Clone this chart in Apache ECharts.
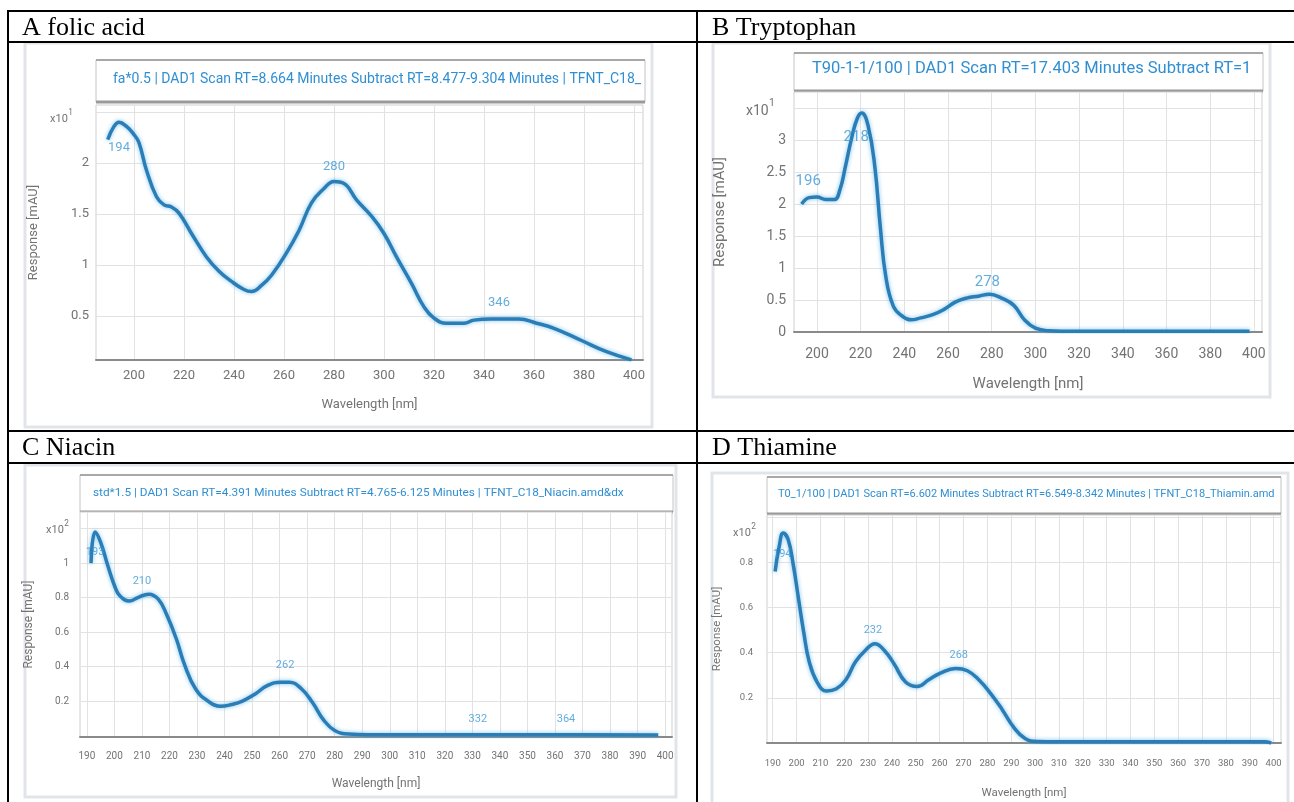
<!DOCTYPE html>
<html>
<head>
<meta charset="utf-8">
<script src="https://cdn.jsdelivr.net/npm/echarts@6/dist/echarts.min.js"></script>
<style>
html,body{margin:0;padding:0;background:#fff;}
#c{width:1294px;height:802px;}
</style>
</head>
<body>
<div id="c"></div>
<script>
// ---------------- DATA ----------------
const headings = ['A folic acid', 'B Tryptophan', 'C Niacin', 'D Thiamine'];
const scanTitles = [
  'fa*0.5 | DAD1 Scan RT=8.664 Minutes Subtract RT=8.477-9.304 Minutes | TFNT_C18_F',
  'T90-1-1/100 | DAD1 Scan RT=17.403 Minutes Subtract RT=1',
  'std*1.5 | DAD1 Scan RT=4.391 Minutes Subtract RT=4.765-6.125 Minutes | TFNT_C18_Niacin.amd&dx',
  'T0_1/100 | DAD1 Scan RT=6.602 Minutes Subtract RT=6.549-8.342 Minutes | TFNT_C18_Thiamin.amd'
];
const exponents = ['1', '1', '2', '2'];

// A folic acid
const wlA  = [189.5, 192, 194, 197, 200, 202, 205, 209, 212, 215, 218, 223, 229, 234, 239, 244, 247, 251, 255, 261, 266, 271, 276, 280, 284, 289, 295, 300, 305, 311, 316, 320, 325, 332, 336, 343, 354, 361, 368, 379, 389, 399];
const valA = [2.23, 2.36, 2.40, 2.36, 2.28, 2.20, 1.93, 1.67, 1.59, 1.57, 1.51, 1.31, 1.08, 0.94, 0.84, 0.76, 0.74, 0.80, 0.90, 1.12, 1.34, 1.61, 1.75, 1.82, 1.80, 1.64, 1.48, 1.31, 1.08, 0.82, 0.59, 0.48, 0.43, 0.43, 0.46, 0.47, 0.47, 0.43, 0.38, 0.26, 0.15, 0.07];
const peakWlA  = [194, 280, 346];
const peakValA = [2.40, 1.82, 0.47];

// B Tryptophan
const wlB  = [193, 196.5, 200, 204, 208, 210.5, 213, 216, 218.5, 220.5, 223.5, 226.5, 229, 231.5, 235, 239, 243, 247.5, 253, 258, 263.5, 268.5, 274, 279, 284.5, 290, 295, 300, 306, 318, 340, 360, 380, 398];
const valB = [2.00, 2.10, 2.11, 2.07, 2.07, 2.22, 2.58, 3.05, 3.34, 3.42, 3.21, 2.58, 1.64, 0.87, 0.40, 0.25, 0.19, 0.22, 0.27, 0.35, 0.47, 0.53, 0.56, 0.59, 0.53, 0.42, 0.19, 0.06, 0.02, 0.01, 0.01, 0.01, 0.01, 0.01];
const peakWlB  = [196, 218, 278];
const peakValB = [2.10, 3.34, 0.59];

// C Niacin
const wlC  = [191.5, 193, 195, 197.5, 200, 202, 205.5, 208.5, 212.5, 216, 219, 222.5, 225.5, 229.5, 234, 238.5, 242.5, 246.5, 251, 255.5, 260.5, 263.5, 268, 272, 276, 280, 285, 300, 330, 360, 397.5];
const valC = [1.00, 1.18, 1.12, 0.99, 0.87, 0.81, 0.78, 0.80, 0.82, 0.79, 0.70, 0.56, 0.41, 0.27, 0.20, 0.17, 0.18, 0.20, 0.24, 0.29, 0.31, 0.31, 0.27, 0.19, 0.09, 0.03, 0.01, 0.005, 0.005, 0.005, 0.004];
const peakWlC  = [193, 210, 262, 332, 364];
const peakValC = [1.18, 0.81, 0.31, 0.005, 0.005];

// D Thiamine
const wlD  = [191, 192.7, 194.4, 196.5, 198.6, 200.8, 203, 205.3, 208.6, 212.6, 216.7, 220.7, 224.7, 228.8, 232.8, 236.8, 240.9, 245.7, 250.6, 255.4, 260.3, 266.7, 271.6, 276.4, 281.3, 286.1, 291, 295.8, 300.7, 320, 360, 396, 399];
const valD = [0.76, 0.87, 0.93, 0.90, 0.79, 0.64, 0.49, 0.36, 0.27, 0.23, 0.24, 0.28, 0.36, 0.41, 0.44, 0.41, 0.35, 0.27, 0.25, 0.28, 0.31, 0.33, 0.32, 0.28, 0.22, 0.15, 0.07, 0.02, 0.007, 0.005, 0.005, 0.005, 0.0];
const peakWlD  = [194, 232, 268];
const peakValD = [0.93, 0.44, 0.33];

// Tick values / labels
const xTicksAB = [200, 220, 240, 260, 280, 300, 320, 340, 360, 380, 400];
const xTicksCD = [190, 200, 210, 220, 230, 240, 250, 260, 270, 280, 290, 300, 310, 320, 330, 340, 350, 360, 370, 380, 390, 400];
const yGridA = [0.5, 1, 1.5, 2, 2.5];       const yLabelA = [0.5, 1, 1.5, 2];
const yGridB = [0, 0.5, 1, 1.5, 2, 2.5, 3, 3.5]; const yLabelB = [0, 0.5, 1, 1.5, 2, 2.5, 3];
const yGridC = [0.2, 0.4, 0.6, 0.8, 1, 1.2]; const yLabelC = [0.2, 0.4, 0.6, 0.8, 1];
const yGridD = [0.2, 0.4, 0.6, 0.8, 1];      const yLabelD = [0.2, 0.4, 0.6, 0.8];

// ---------------- LAYOUT / STYLE ----------------
const LINE = '#2a7db5', PEAK = '#3b98d6', TTL = '#2f8fd2', AX = '#737373', GRIDC = '#e2e2e2';
const SANS = 'Roboto, "Open Sans", sans-serif';
const SERIF = '"Times New Roman", "Liberation Serif", serif';

const panels = [
  { wl: wlA, val: valA, pw: peakWlA, pv: peakValA, xt: xTicksAB, yg: yGridA, yl: yLabelA,
    grid: {left: 96, top: 105, width: 547, height: 255}, x: [184.8, 403.6], y: [0.069, 2.57],
    frame: [25, 43, 627, 384], tbox: [96, 60, 549, 42], ttl: {x: 113, y: 81, size: 14, w: 531},
    exp: {x: 50, y: 119, size: 11}, fs: 13, lab: {mx: 9, my: 7}, names: {gx: 38, gy: 56, size: 13},
    pfs: 13, pdist: [18, 8, 9], below: [0] },
  { wl: wlB, val: valB, pw: peakWlB, pv: peakValB, xt: xTicksAB, yg: yGridB, yl: yLabelB,
    grid: {left: 794, top: 92, width: 468, height: 240}, x: [189.5, 403.7], y: [0, 3.75],
    frame: [713, 43, 557, 354], tbox: [794, 53, 469, 38], ttl: {x: 812, y: 71, size: 16.5, w: 450},
    exp: {x: 746, y: 111, size: 14}, fs: 14, lab: {mx: 15, my: 8}, names: {gx: 45, gy: 66, size: 15},
    pfs: 15, pdist: [8, 11, 4], below: [1] },
  { wl: wlC, val: valC, pw: peakWlC, pv: peakValC, xt: xTicksCD, yg: yGridC, yl: yLabelC,
    grid: {left: 80, top: 512, width: 592, height: 225}, x: [187.5, 402.5], y: [-0.008, 1.296],
    frame: [25, 465, 651, 332], tbox: [80, 475, 593, 37], ttl: {x: 93, y: 494, size: 11.8, w: 575},
    exp: {x: 46, y: 530, size: 11}, fs: 10, lab: {mx: 14, my: 11}, names: {gx: 41, gy: 45, size: 12},
    pfs: 11, pdist: [14, 9, 11, 10, 10], below: [0] },
  { wl: wlD, val: valD, pw: peakWlD, pv: peakValD, xt: xTicksCD, yg: yGridD, yl: yLabelD,
    grid: {left: 767, top: 515, width: 514, height: 228}, x: [187.6, 403.1], y: [0, 1.01],
    frame: [712, 473, 576, 335], tbox: [767, 477, 514, 37], ttl: {x: 778, y: 496, size: 11, w: 502},
    exp: {x: 733, y: 533, size: 11}, fs: 9.5, lab: {mx: 16, my: 14}, names: {gx: 44, gy: 44, size: 11.5},
    pfs: 11, pdist: [15, 7, 7], below: [0] }
];

// ---------------- BUILD OPTION ----------------
const grids = [], xAxes = [], yAxes = [], series = [], titles = [], graphics = [];

// table lines
const tl = (x1, y1, x2, y2) => ({type: 'line', shape: {x1, y1, x2, y2}, style: {stroke: '#000', lineWidth: 2}, z: 100});
graphics.push(tl(7, 11, 1294, 11), tl(7, 42, 1294, 42), tl(7, 431, 1294, 431), tl(7, 463, 1294, 463),
              tl(8, 10, 8, 802), tl(697, 10, 697, 802));
// headings
const headPos = [[22, 28], [712, 28], [22, 448], [712, 448]];
headings.forEach((h, i) => graphics.push({type: 'text', x: headPos[i][0], y: headPos[i][1], z: 100,
  style: {text: h, font: '26px ' + SERIF, fill: '#000', verticalAlign: 'middle', align: 'left'}}));

panels.forEach((p, i) => {
  grids.push(Object.assign({show: true, borderColor: '#cfcfcf', borderWidth: 1, backgroundColor: '#fff',
    containLabel: false, outerBoundsMode: 'none'}, p.grid));
  xAxes.push({
    type: 'value', gridIndex: i, min: p.x[0], max: p.x[1],
    name: 'Wavelength [nm]', nameLocation: 'middle', nameGap: p.names.gx,
    nameTextStyle: {color: AX, fontSize: p.names.size, fontFamily: SANS},
    axisLine: {show: true, onZero: false, lineStyle: {color: '#8a8a8a', width: 2}},
    axisTick: {show: false, customValues: p.xt},
    axisLabel: {customValues: p.xt, color: AX, fontSize: p.fs, fontFamily: SANS, margin: p.lab.mx, hideOverlap: false},
    splitLine: {show: true, lineStyle: {color: GRIDC, width: 1}}
  });
  yAxes.push({
    type: 'value', gridIndex: i, min: p.y[0], max: p.y[1],
    name: 'Response [mAU]', nameLocation: 'middle', nameGap: p.names.gy,
    nameTextStyle: {color: AX, fontSize: p.names.size, fontFamily: SANS},
    axisLine: {show: false}, axisTick: {show: false, customValues: p.yg},
    axisLabel: {customValues: p.yl, color: AX, fontSize: p.fs, fontFamily: SANS, margin: p.lab.my,
      formatter: v => String(+v.toFixed(2))},
    splitLine: {show: true, lineStyle: {color: GRIDC, width: 1}}
  });
  series.push({
    type: 'line', xAxisIndex: i, yAxisIndex: i, symbol: 'none', smooth: 0.45,
    data: p.wl.map((w, k) => [w, p.val[k]]),
    lineStyle: {color: LINE, width: 3.5, shadowColor: 'rgba(80,175,235,0.75)', shadowBlur: 4},
    z: 3, silent: true
  });
  series.push({
    type: 'scatter', xAxisIndex: i, yAxisIndex: i, symbolSize: 1, itemStyle: {color: 'rgba(0,0,0,0)'},
    data: p.pw.map((w, k) => ({value: [w, p.pv[k]],
      label: {position: p.below.includes(k) ? 'bottom' : 'top', distance: p.pdist[k]}})),
    label: {show: true, formatter: d => String(d.value[0]), color: PEAK, fontSize: p.pfs, fontFamily: SANS},
    z: 4, silent: true
  });
  titles.push({
    text: scanTitles[i], left: p.ttl.x, top: p.ttl.y - p.ttl.size * 0.62, padding: 0,
    textStyle: {color: TTL, fontSize: p.ttl.size, fontWeight: 'normal', fontFamily: SANS,
      width: p.ttl.w, overflow: 'truncate', ellipsis: ''}
  });
  // screenshot frame
  graphics.push({type: 'rect', shape: {x: p.frame[0], y: p.frame[1], width: p.frame[2], height: p.frame[3]},
    style: {fill: 'none', stroke: '#e1e5ea', lineWidth: 3}, z: -10});
  // title box
  const b = p.tbox;
  graphics.push({type: 'rect', shape: {x: b[0], y: b[1], width: b[2], height: b[3]},
    style: {fill: '#fff', stroke: '#c4c4c4', lineWidth: 1}, z: -5});
  graphics.push({type: 'line', shape: {x1: b[0], y1: b[1], x2: b[0] + b[2], y2: b[1]},
    style: {stroke: '#a8a8a8', lineWidth: 2}, z: -4});
  graphics.push({type: 'line', shape: {x1: b[0], y1: b[1] + b[3], x2: b[0] + b[2], y2: b[1] + b[3]},
    style: {stroke: '#9a9a9a', lineWidth: 3}, z: -4});
  // exponent label
  graphics.push({type: 'text', x: p.exp.x, y: p.exp.y, z: 50,
    style: {text: 'x10', font: p.exp.size + 'px ' + SANS, fill: AX, verticalAlign: 'middle', align: 'left'}});
  graphics.push({type: 'text', x: p.exp.x + p.exp.size * 1.65, y: p.exp.y - p.exp.size * 0.55, z: 50,
    style: {text: exponents[i], font: (p.exp.size * 0.75) + 'px ' + SANS, fill: AX, verticalAlign: 'middle', align: 'left'}});
});

const chart = echarts.init(document.getElementById('c'), null, {renderer: 'canvas'});
chart.setOption({
  animation: false,
  backgroundColor: '#fff',
  title: titles,
  grid: grids,
  xAxis: xAxes,
  yAxis: yAxes,
  series: series,
  graphic: {elements: graphics}
});
</script>
</body>
</html>
